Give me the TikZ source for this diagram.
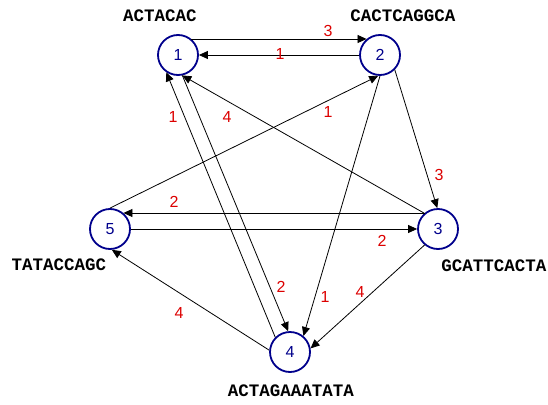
\documentclass[tikz,border=0pt]{standalone}
\usepackage{fontspec}
\setmainfont{Liberation Sans}
\setmonofont{Liberation Mono}
\usepackage{tikz}
\usetikzlibrary{arrows.meta}
\definecolor{vnavy}{RGB}{0,0,140}
\definecolor{wred}{RGB}{220,0,0}

\begin{document}
\begin{tikzpicture}[x=1pt, y=-1pt,
  vtx/.style={draw=vnavy, line width=1.8pt, circle, fill=white, minimum size=40pt,
              inner sep=0pt, text=vnavy, font=\fontsize{16}{18}\selectfont},
  seq/.style={font=\ttfamily\bfseries\fontsize{17.5}{20}\selectfont},
  wt/.style={text=wred, font=\fontsize{16}{18}\selectfont},
  arr/.style={-{Triangle[length=9pt,width=8pt]}, line width=0.8pt}]
  \useasboundingbox (0,0) rectangle (548,404);
  % vertices
  \node[vtx] (n1) at (178,55) {1};
  \node[vtx] (n2) at (380,55) {2};
  \node[vtx] (n3) at (438,229) {3};
  \node[vtx] (n4) at (290,352) {4};
  \node[vtx] (n5) at (110,229) {5};
  % sequences
  \node[seq] (s1) at (160,16) {ACTACAC};
  \node[seq] (s2) at (403,16) {CACTCAGGCA};
  \node[seq] (s3) at (494,266) {GCATTCACTA};
  \node[seq] (s4) at (291,391) {ACTAGAAATATA};
  \node[seq] (s5) at (59,265) {TATACCAGC};
  % weighted edges
  \draw[arr] (n1.50) -- (n2.130) node[wt] at (328,31) {3};
  \draw[arr] (n2.west) -- (n1.east) node[wt] at (280,54) {1};
  \draw[arr] (n4.135) -- (n1.236) node[wt] at (173,117) {1};
  \draw[arr] (n1.282) -- (n4.95) node[wt] at (281,287) {2};
  \draw[arr] (n3.131) -- (n1.282) node[wt] at (227,117) {4};
  \draw[arr] (n5.90) -- (n2.265) node[wt] at (328,112) {1};
  \draw[arr] (n2.315) -- (n3.92) node[wt] at (439,175) {3};
  \draw[arr] (n2.270) -- (n4.50) node[wt] at (325,297) {1};
  \draw[arr] (n3.230) -- (n4.10) node[wt] at (360,292) {4};
  \draw[arr] (n4.175) -- (n5.275) node[wt] at (179,313) {4};
  \draw[arr] (n3.130) -- (n5.50) node[wt] at (174,202) {2};
  \draw[arr] (n5.east) -- (n3.west) node[wt] at (382,241) {2};
\end{tikzpicture}
\end{document}
